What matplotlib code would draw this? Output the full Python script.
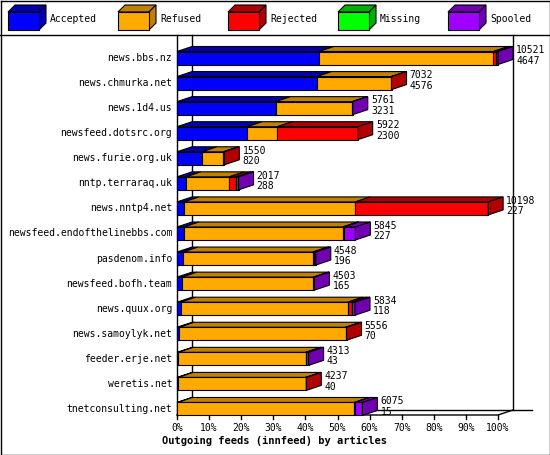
import matplotlib
matplotlib.use("Agg")
import matplotlib.pyplot as plt
from matplotlib.patches import Polygon

# --- data -------------------------------------------------------------
feeds = ["news.bbs.nz", "news.chmurka.net", "news.1d4.us", "newsfeed.dotsrc.org",
         "news.furie.org.uk", "nntp.terraraq.uk", "news.nntp4.net",
         "newsfeed.endofthelinebbs.com", "pasdenom.info", "newsfeed.bofh.team",
         "news.quux.org", "news.samoylyk.net", "feeder.erje.net", "weretis.net",
         "tnetconsulting.net"]
accepted = [4647, 4576, 3231, 2300, 820, 288, 227, 227, 196, 165, 118, 70, 43, 40, 15]
refused  = [5724, 2446, 2515, 990, 700, 1427, 5616, 5203, 4251, 4303, 5476, 5457, 4175, 4180, 5795]
rejected = [70, 10, 0, 2632, 30, 220, 4355, 40, 50, 0, 142, 29, 20, 17, 15]
missing  = [0] * 15
spooled  = [80, 0, 15, 0, 0, 82, 0, 375, 51, 35, 98, 0, 75, 0, 250]
totals   = [10521, 7032, 5761, 5922, 1550, 2017, 10198, 5845, 4548, 4503, 5834, 5556, 4313, 4237, 6075]

series = ["Accepted", "Refused", "Rejected", "Missing", "Spooled"]
values = [accepted, refused, rejected, missing, spooled]
front = ["#0000ff", "#ffaa00", "#ff0000", "#00ff00", "#a000ff"]
dark  = ["#0000b0", "#c08000", "#b00000", "#00b000", "#7000b0"]

# --- layout -------------------------------------------------------------
W, H = 550, 455
fig = plt.figure(figsize=(5.5, 4.55), dpi=100)
pax = fig.add_axes([0, 0, 1, 1])
pax.set_xlim(0, W); pax.set_ylim(H, 0); pax.axis("off")

x0, x1, ytop, ybot = 177, 498, 35, 413
ax = fig.add_axes([x0 / W, (H - ybot) / H, (x1 - x0) / W, (ybot - ytop) / H])
row0, rstep = 58, 25.07
ax.set_xlim(0, 100)
ax.set_ylim((ybot - row0) / rstep, (ytop - row0) / rstep)
ax.axis("off")

dx, dy = 15 * 100 / (x1 - x0), -5 / rstep
hh = 6.5 / rstep
mono = "DejaVu Sans Mono"
fs = 7
vmax = max(totals)

# frame / walls in pixel space
pax.plot([0.5, 549.5, 549.5, 0.5, 0.5], [0.5, 0.5, 454.5, 454.5, 0.5], color="k", lw=1)
pax.plot([0, W], [35, 35], color="k", lw=1)
pax.plot([192, 192], [35, 410], color="k", lw=1)
pax.plot([513, 513], [35, 410], color="k", lw=1)
pax.plot([177, 177], [35, 415], color="k", lw=1)
pax.plot([192, 532], [410, 410], color="k", lw=1)
pax.plot([177, 498, 513], [415, 415, 410], color="k", lw=1)
for t in range(0, 101, 10):
    xp = x0 + t * (x1 - x0) / 100
    pax.plot([xp, xp], [415, 419], color="k", lw=1)
    pax.text(xp, 428, f"{t}%", ha="center", va="center", fontsize=fs, family=mono)
pax.text(275, 441, "Outgoing feeds (innfeed) by articles", ha="center", va="center",
         fontsize=7.5, family=mono, weight="bold")

# legend
for k, name in enumerate(series):
    lx = 8 + k * 110
    pax.add_patch(Polygon([(lx + 7, 5), (lx + 38, 5), (lx + 31, 12), (lx, 12)],
                          closed=True, fc=dark[k], ec="k", lw=0.8))
    pax.add_patch(Polygon([(lx + 31, 12), (lx + 38, 5), (lx + 38, 23), (lx + 31, 30)],
                          closed=True, fc=dark[k], ec="k", lw=0.8))
    pax.add_patch(Polygon([(lx, 12), (lx + 31, 12), (lx + 31, 30), (lx, 30)],
                          closed=True, fc=front[k], ec="k", lw=0.8))
    pax.text(lx + 42, 19, name, ha="left", va="center", fontsize=fs, family=mono)

# bars
for i, feed in enumerate(feeds):
    left = 0.0
    last = 0
    for k in range(len(series)):
        w = values[k][i] * 100 / vmax
        if w <= 0:
            continue
        ax.add_patch(Polygon([(left, i - hh), (left + w, i - hh), (left + w + dx, i - hh + dy),
                              (left + dx, i - hh + dy)], closed=True, fc=dark[k], ec="k",
                             lw=0.8, clip_on=False))
        ax.add_patch(Polygon([(left, i - hh), (left + w, i - hh), (left + w, i + hh),
                              (left, i + hh)], closed=True, fc=front[k], ec="k", lw=0.8,
                             clip_on=False))
        left += w
        last = k
    ax.add_patch(Polygon([(left, i - hh), (left + dx, i - hh + dy), (left + dx, i + hh + dy),
                          (left, i + hh)], closed=True, fc=dark[last], ec="k", lw=0.8,
                         clip_on=False))
    ax.text(-1.5, i, feed, ha="right", va="center", fontsize=fs, family=mono, clip_on=False)
    ax.text(left + dx + 1, i - hh + dy - 0.05, f"{totals[i]}\n{accepted[i]}", ha="left",
            va="top", fontsize=fs, family=mono, linespacing=1.05, clip_on=False)

fig.savefig("out.png", dpi=100)
